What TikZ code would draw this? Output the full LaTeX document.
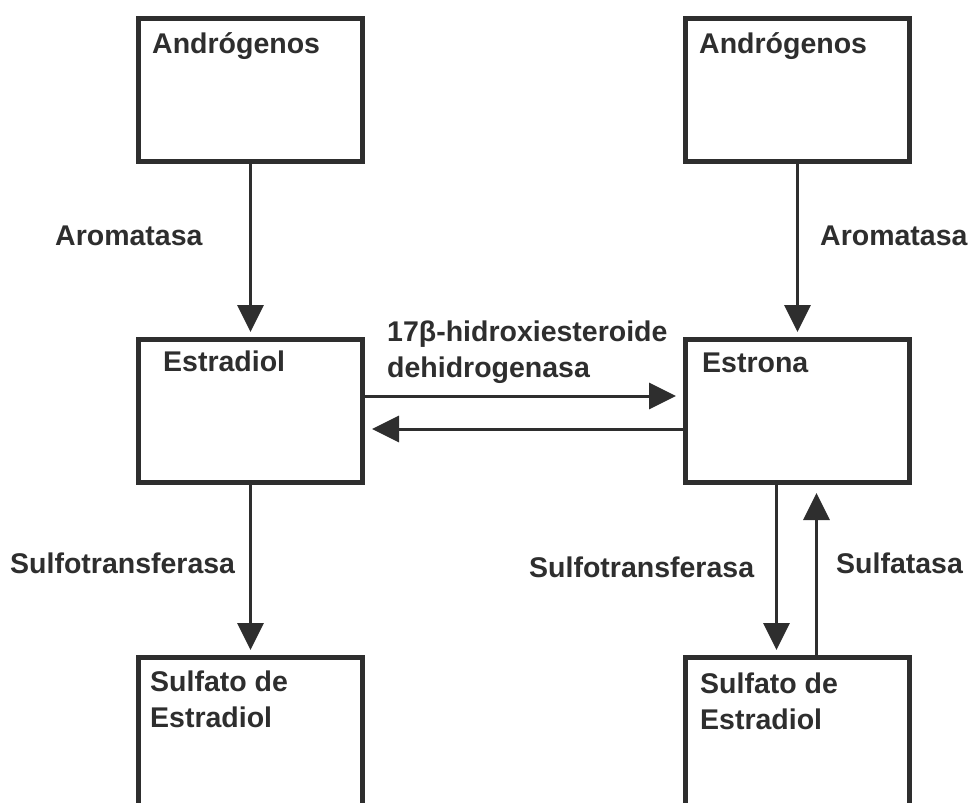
\documentclass[tikz,border=0pt]{standalone}
\usepackage{fontspec}
\setmainfont{Liberation Sans}
\usetikzlibrary{arrows.meta,positioning}
\definecolor{ink}{gray}{0.18}

\begin{document}
\begin{tikzpicture}[x=1pt,y=-1pt, node distance=173pt and 318pt,
  box/.style={draw=ink,line width=5pt,inner sep=0pt,minimum width=224pt,minimum height=143pt},
  sbox/.style={box,minimum height=190pt},
  lbl/.style={inner sep=0pt,text=ink,align=left,font=\bfseries\fontsize{28.5}{35.5}\selectfont},
  arr/.style={draw=ink,line width=3pt,-{Triangle[length=27pt,width=26pt]},shorten >=5pt}]
\useasboundingbox (0,0) rectangle (969,803);
\clip (0,0) rectangle (969,803);
% boxes
\node[box] (A1) at (250.5,90) {};
\node[box,right=of A1] (A2) {};
\node[box,below=of A1] (E2) {};
\node[box,right=of E2] (E1) {};
\node[sbox,below=170pt of E2,anchor=north] (S1) {};
\node[sbox,below=170pt of E1,anchor=north] (S2) {};
% box texts
\node[lbl,anchor=north west] (tA1) at ([shift={(16,16)}]A1.north west) {Andrógenos};
\node[lbl,anchor=north west] (tA2) at ([shift={(16,16)}]A2.north west) {Andrógenos};
\node[lbl,anchor=north west] (tE2) at ([shift={(27,14)}]E2.north west) {Estradiol};
\node[lbl,anchor=north west] (tE1) at ([shift={(19,16)}]E1.north west) {Estrona};
\node[lbl,anchor=north west] (tS1) at ([shift={(14,16)}]S1.north west) {Sulfato de\\Estradiol};
\node[lbl,anchor=north west] (tS2) at ([shift={(17,18)}]S2.north west) {Sulfato de\\Estradiol};
% enzyme labels
\node[lbl,anchor=base west] (aro1) at (55,245) {Aromatasa};
\node[lbl,anchor=base west] (aro2) at (820,245) {Aromatasa};
\node[lbl,anchor=north west] (hsd) at (387,321) {17β-hidroxiesteroide\\dehidrogenasa};
\node[lbl,anchor=base west] (sulf1) at (10,573) {Sulfotransferasa};
\node[lbl,anchor=base west] (sulf2) at (529,577) {Sulfotransferasa};
\node[lbl,anchor=base west] (sulfa) at (836,573) {Sulfatasa};
% arrows
\draw[arr] (A1) -- (E2);
\draw[arr] (A2) -- (E1);
\draw[arr,shorten >=7pt] ([yshift=15pt]E2.east) -- ([yshift=15pt]E1.west);
\draw[arr,shorten >=7pt] ([yshift=-18pt]E1.west) -- ([yshift=-18pt]E2.east);
\draw[arr] (E2) -- (S1);
\draw[arr] ([xshift=-21pt]E1.south) -- ([xshift=-21pt]S2.north);
\draw[arr,shorten >=8pt] ([xshift=19pt]S2.north) -- ([xshift=19pt]E1.south);
\end{tikzpicture}
\end{document}
